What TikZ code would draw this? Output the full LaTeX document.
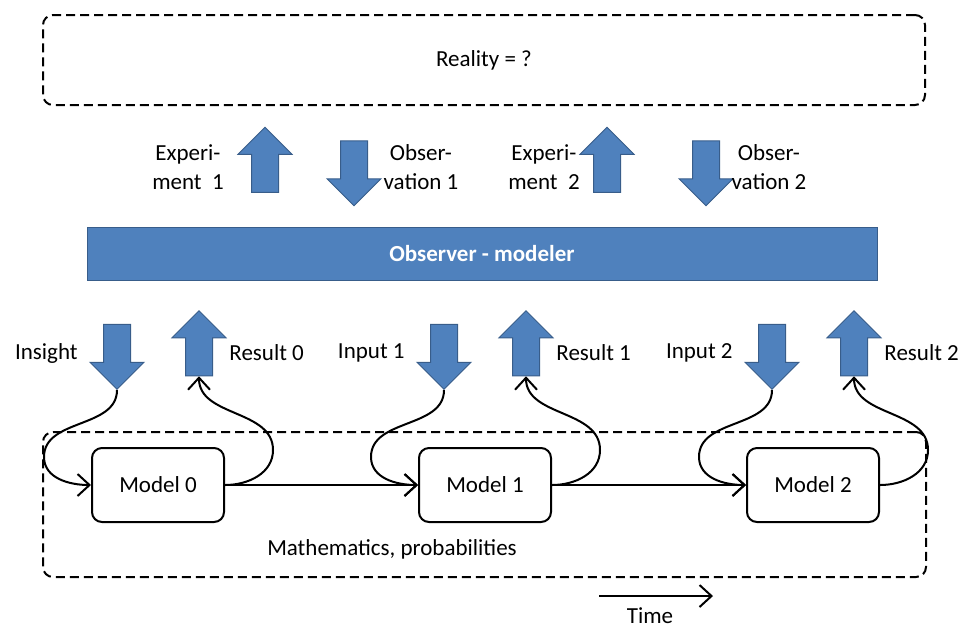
\documentclass[tikz,border=0pt]{standalone}
\usepackage{fontspec}
\setmainfont{Carlito}
\usetikzlibrary{shapes.arrows,arrows.meta}
\definecolor{barblue}{HTML}{4F81BD}
\definecolor{barline}{HTML}{385D8A}
\tikzset{
  fatarrow/.style={single arrow, draw=barline, fill=barblue, line width=0.5pt, inner xsep=0pt, inner ysep=6.5pt,
    minimum height=32.5pt, minimum width=26.5pt, single arrow head extend=6.75pt},
  model/.style={draw, rounded corners=5pt, line width=1pt, minimum width=66pt, minimum height=37pt},
  frame/.style={draw, rounded corners=5pt, line width=1pt, dash pattern=on 4.5pt off 2.5pt},
  flow/.style={line width=1pt, -{Straight Barb[length=6pt,width=11pt]}},
}
\begin{document}
\begin{tikzpicture}[x=0.5pt,y=-0.5pt,font=\fontsize{11.5}{14.5}\selectfont]
    \useasboundingbox (0,0) rectangle (962,628);
    % reality and observer
    \node [frame, minimum width=441pt, minimum height=45pt] (reality) at (484,60) {Reality = ?};
    \node [draw=barline, fill=barblue, line width=0.5pt, minimum width=395pt, minimum height=26.5pt,
        text=white, font=\fontsize{11.5}{14.5}\selectfont\bfseries] (observer) at (482,253.5) {Observer - modeler};
    \node [fatarrow, rotate=90] (exp1) at (265,166.5) {};
    \node [fatarrow, rotate=-90] (obs1) at (354,166.5) {};
    \node [fatarrow, rotate=90] (exp2) at (607,166.5) {};
    \node [fatarrow, rotate=-90] (obs2) at (706,166.5) {};
    \node [align=center] (exp1lab) at (188,167) {Experi-\\ment\ \ 1};
    \node [align=center] (obs1lab) at (421,167) {Obser-\\vation 1};
    \node [align=center] (exp2lab) at (544,167) {Experi-\\ment\ \ 2};
    \node [align=center] (obs2lab) at (769,167) {Obser-\\vation 2};
    % models
    \node [frame, minimum width=441.5pt, minimum height=72.5pt] (math) at (484.5,504.5) {};
    \node (mathlab) at (392,549) {Mathematics, probabilities};
    \foreach \i/\x/\inlab in {0/158/Insight, 1/485/Input 1, 2/813/Input 2} {
        \node [model] (m\i) at (\x,485) {Model \i};
        \node [fatarrow, rotate=-90] (in\i) at (\x-41,350) {};
        \node [fatarrow, rotate=90] (res\i) at (\x+41,350) {};
        \node [anchor=east, inner sep=0pt] (in\i lab) at (\x-80,353) {\inlab};
        \node [anchor=west, inner sep=0pt] (res\i lab) at (\x+71,353) {Result \i};
        \draw [flow] (in\i.tip) to[out=-90,in=90] ++(-73,67) to[out=-90,in=180] (m\i.west);
        \draw [flow] (m\i.east) to[out=0,in=-90] ++(48,-35) to[out=90,in=-90] (res\i.tail);
    }
    \draw [flow] (m0) -- (m1);
    \draw [flow] (m1) -- (m2);
    % time
    \coordinate (t0) at (599,596);
    \coordinate (t1) at (713,596);
    \draw [flow] (t0) -- (t1);
    \node [inner sep=0pt] (timelab) at (650,616) {Time};
\end{tikzpicture}
\end{document}
